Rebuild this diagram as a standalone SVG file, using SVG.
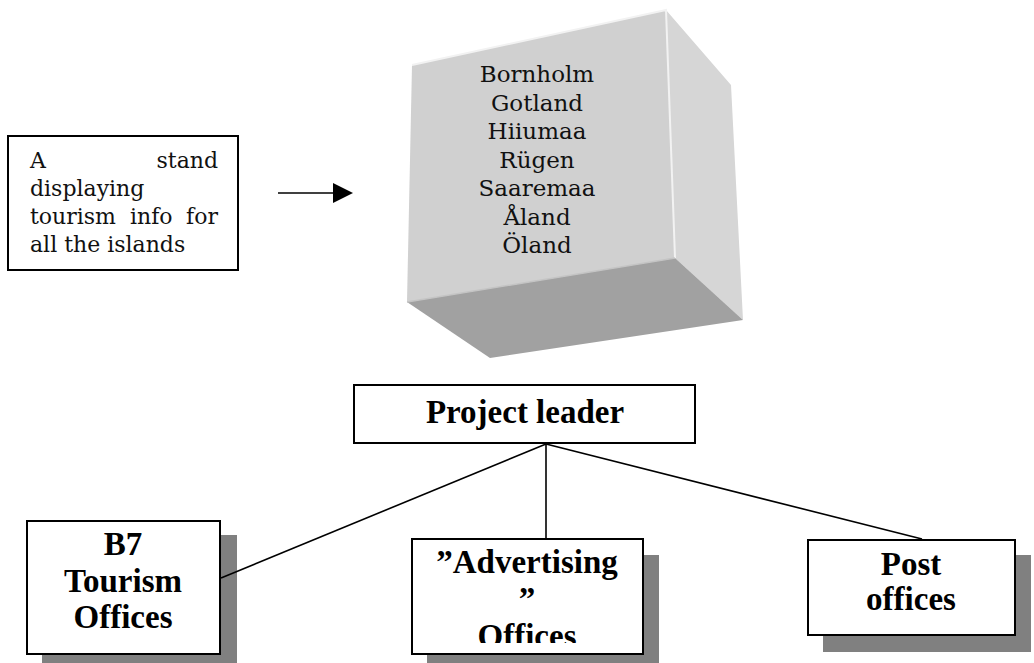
<svg xmlns="http://www.w3.org/2000/svg" width="1034" height="663" viewBox="0 0 1034 663">
<style>
.box{fill:#fff;stroke:#000;stroke-width:2}
.shadow{fill:#808080}
.ser{font-family:"DejaVu Serif","Liberation Serif",serif;font-size:22px;fill:#111}
.cub{font-size:23px}
.bold{font-family:"Liberation Serif","Times New Roman",serif;font-size:33px;font-weight:bold;fill:#000;text-anchor:middle}
.conn{stroke:#000;stroke-width:1.6;fill:none}
</style>
<defs>
<marker id="arr" markerWidth="20" markerHeight="20" refX="0" refY="10" orient="auto" markerUnits="userSpaceOnUse" viewBox="0 0 20 20">
<path d="M0,0 L20,10 L0,20 Z" fill="#000"/>
</marker>
<clipPath id="advClip"><rect x="412" y="539" width="231" height="104"/></clipPath>
</defs>

<g id="cube">
<polygon points="412,65 666,10 731,85 743,320 675,258" fill="#d6d6d6"/>
<polygon points="407,302 675,258 743,320 490,358" fill="#a1a1a1"/>
<polygon points="412,65 666,10 675,258 407,302" fill="#d0d0d0"/>
<polyline points="412,65 666,10 675,258" fill="none" stroke="#f2f2f2" stroke-width="2"/>
<line x1="407" y1="302" x2="675" y2="258" stroke="#c4c4c4" stroke-width="1.5"/>
<g class="ser cub" text-anchor="middle">
<text x="537" y="82">Bornholm</text>
<text x="537" y="110.5">Gotland</text>
<text x="537" y="139">Hiiumaa</text>
<text x="537" y="167.5">Rügen</text>
<text x="537" y="196">Saaremaa</text>
<text x="537" y="224.5">Åland</text>
<text x="537" y="253">Öland</text>
</g>
</g>

<g id="stand">
<rect class="box" x="8" y="136" width="230" height="134"/>
<text class="ser" x="30" y="168">A</text>
<text class="ser" x="218" y="168" text-anchor="end">stand</text>
<text class="ser" x="30" y="196">displaying</text>
<text class="ser" x="30" y="224">tourism</text>
<text class="ser" x="130" y="224">info</text>
<text class="ser" x="218" y="224" text-anchor="end">for</text>
<text class="ser" x="30" y="252">all the islands</text>
</g>

<g id="project-leader">
<rect class="box" x="354" y="385" width="341" height="58"/>
<text class="bold" x="525" y="423">Project leader</text>
</g>

<g id="b7">
<rect class="shadow" x="42" y="535" width="195" height="130"/>
<rect class="box" x="27" y="521" width="193" height="133"/>
<text class="bold" x="123" y="555">B7</text>
<text class="bold" x="123" y="592">Tourism</text>
<text class="bold" x="123" y="628">Offices</text>
</g>

<g id="advertising">
<rect class="shadow" x="427" y="555" width="232" height="110"/>
<rect class="box" x="412" y="539" width="231" height="115"/>
<g clip-path="url(#advClip)">
<text class="bold" x="527" y="573">”Advertising</text>
<text class="bold" x="527" y="610">”</text>
<text class="bold" x="527" y="647">Offices</text>
</g>
</g>

<g id="post">
<rect class="shadow" x="823" y="555" width="208" height="97"/>
<rect class="box" x="808" y="540" width="207" height="95"/>
<text class="bold" x="911" y="575">Post</text>
<text class="bold" x="911" y="610">offices</text>
</g>

<g id="connectors">
<line class="conn" x1="278" y1="193" x2="333" y2="193" marker-end="url(#arr)" stroke-width="2"/>
<line class="conn" x1="546" y1="444" x2="221" y2="578"/>
<line class="conn" x1="546" y1="444" x2="546" y2="539"/>
<line class="conn" x1="546" y1="444" x2="922" y2="539"/>
</g>
</svg>
